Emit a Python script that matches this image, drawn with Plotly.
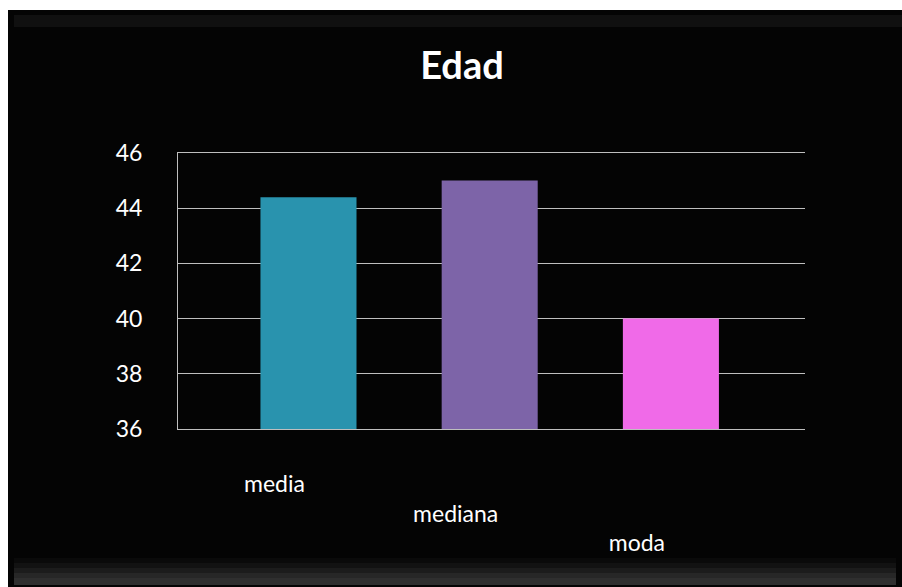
import plotly.graph_objects as go

# ---- data ----
categories = ["media", "mediana", "moda"]
values = [44.4, 45.0, 40.0]
tick_labels = ["media", "<br>mediana", "<br><br>moda"]
bar_colors = ["#2993AE", "#7D64A8", "#F06AE8"]
y_ticks = [36, 38, 40, 42, 44, 46]

W, H = 902, 587
L, R, T, B = 178, 97, 153, 158
PW, PH = W - L - R, H - T - B


def px_x(px):
    return (px - L) / PW


def px_y(py):
    return (H - B - py) / PH


fig = go.Figure()
fig.add_trace(go.Bar(
    x=list(range(len(categories))),
    y=values,
    width=0.53,
    marker=dict(color=bar_colors, line=dict(width=0)),
    hovertext=categories,
))

shapes = [
    # black chart frame over the white page (white strip left & top)
    dict(type="rect", xref="paper", yref="paper", layer="below",
         x0=px_x(8), x1=px_x(W + 20), y0=px_y(10), y1=px_y(H + 5),
         fillcolor="#040404", line=dict(width=0)),
    # top bevel (faint)
    dict(type="rect", xref="paper", yref="paper", layer="below",
         x0=px_x(14), x1=px_x(W + 20), y0=px_y(15), y1=px_y(27),
         fillcolor="rgba(60,60,60,0.22)", line=dict(width=0)),
]
# bottom bevel: soft gradient made of stacked translucent bands
for top, alpha in [(558, 0.06), (563, 0.08), (568, 0.10), (573, 0.12), (578, 0.10)]:
    shapes.append(dict(type="rect", xref="paper", yref="paper", layer="below",
                       x0=px_x(14), x1=px_x(W - 6), y0=px_y(top), y1=px_y(585),
                       fillcolor=f"rgba(120,120,120,{alpha})", line=dict(width=0)))

fig.update_layout(
    width=W, height=H,
    margin=dict(l=L, r=R, t=T, b=B),
    paper_bgcolor="white",
    plot_bgcolor="rgba(0,0,0,0)",
    showlegend=False,
    bargap=0.5,
    font=dict(family="Lato, Open Sans, sans-serif", color="white"),
    title=dict(text="<b>Edad</b>", x=462 / W, xanchor="center",
               y=1 - 66 / H, yanchor="middle",
               font=dict(size=38, color="white", family="Lato, Open Sans, sans-serif")),
    xaxis=dict(
        range=[-0.72, 2.74],
        tickmode="array",
        tickvals=list(range(len(categories))),
        ticktext=tick_labels,
        tickfont=dict(size=23, color="white"),
        showgrid=False,
        showline=True, linecolor="#BFBFBF", linewidth=1, mirror=True,
        ticks="", ticklabelstandoff=34, ticklabelshift=-34,
        zeroline=False,
    ),
    yaxis=dict(
        range=[36, 46],
        tickmode="array",
        tickvals=y_ticks,
        ticktext=[str(v) for v in y_ticks],
        tickfont=dict(size=23, color="white"),
        showgrid=True, gridcolor="#BFBFBF", gridwidth=1,
        showline=True, linecolor="#BFBFBF", linewidth=1,
        ticks="", ticklabelstandoff=30,
        zeroline=False,
    ),
    shapes=shapes,
)

fig.write_html("out.html", config={"displayModeBar": False},
               post_script="document.body.style.margin='0';document.body.style.background='#040404';")
